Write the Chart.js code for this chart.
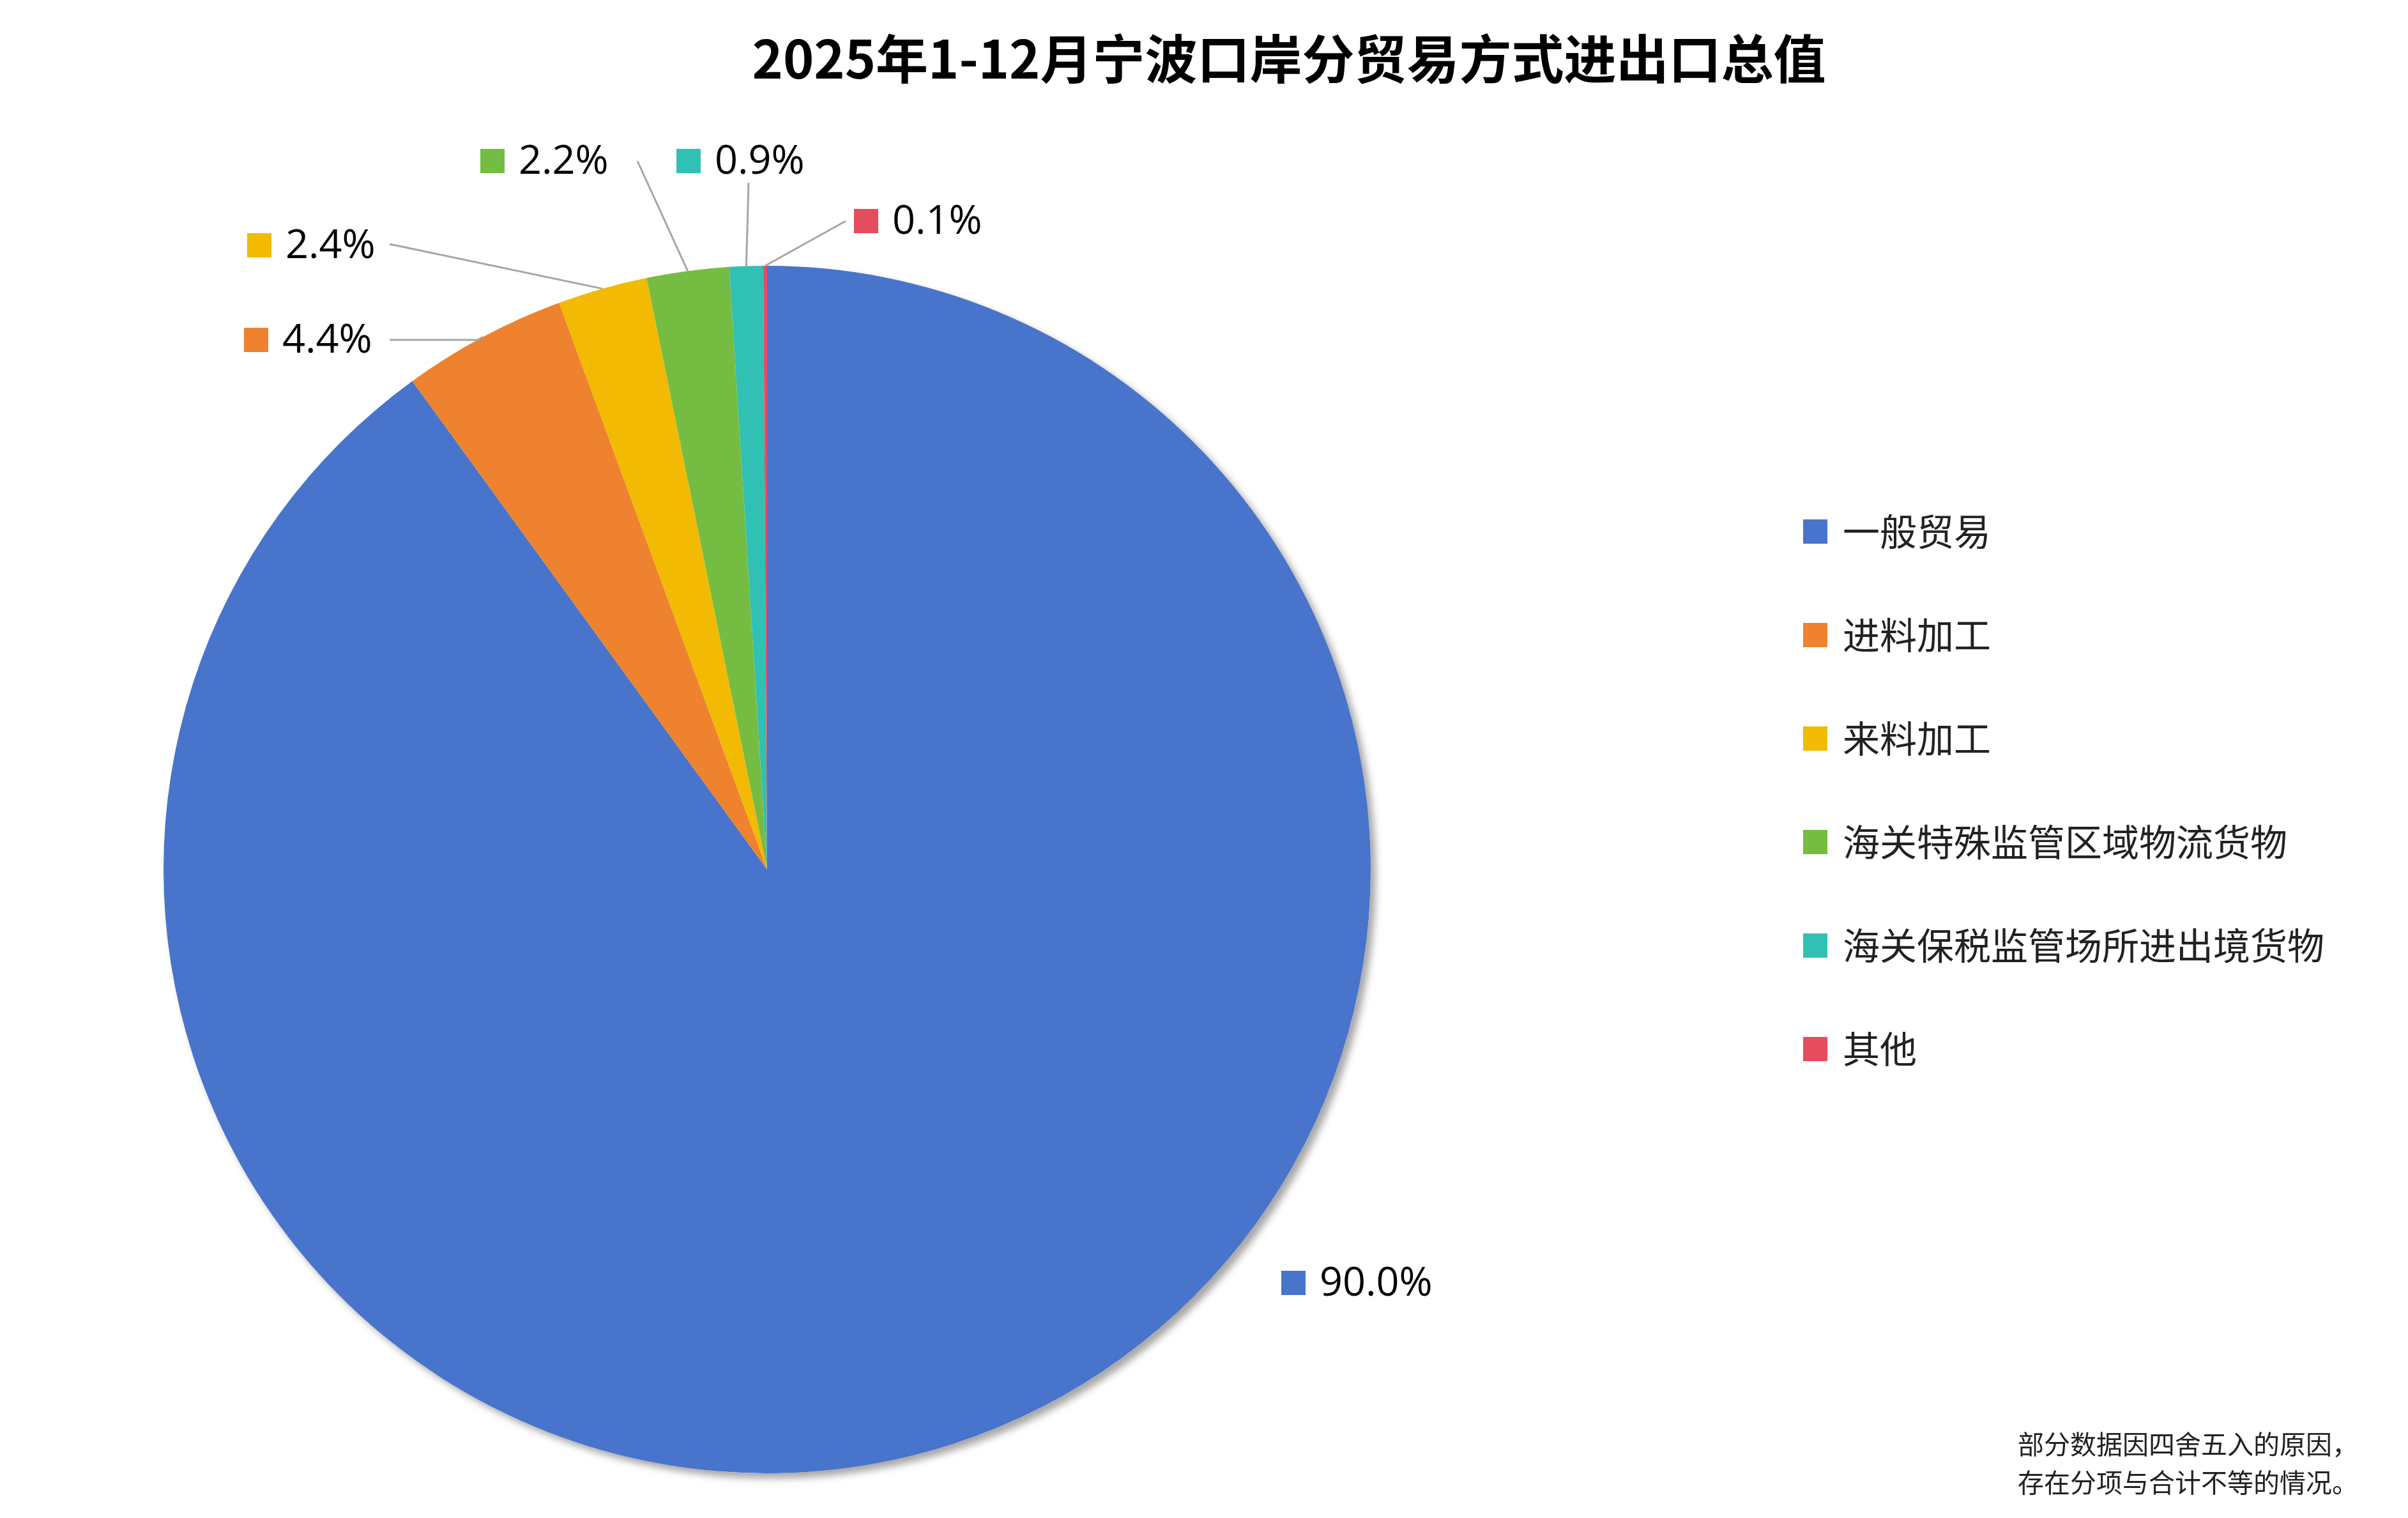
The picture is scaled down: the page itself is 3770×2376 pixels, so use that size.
<!DOCTYPE html>
<html><head><meta charset="utf-8">
<script src="https://cdn.jsdelivr.net/npm/chart.js@4/dist/chart.umd.min.js"></script>
<style>html,body{margin:0;padding:0;background:#fff}#w{width:3770px;height:2376px}</style>
</head><body><div id="w"><canvas id="c"></canvas></div>
<script>
const categories = ["一般贸易","进料加工","来料加工","海关特殊监管区域物流货物","海关保税监管场所进出境货物","其他"];
const shares = [90.0, 4.4, 2.4, 2.2, 0.9, 0.1];
const colors = ["#4874CB","#EE822F","#F2BA02","#75BD42","#30C0B4","#E54C5E"];
const titleText = "2025年1-12月宁波口岸分贸易方式进出口总值";
const noteLines = ["部分数据因四舍五入的原因，","存在分项与合计不等的情况。"];
// label box positions (square left x, center y) and leader bend points
const labelPos = [[2006,2008],[382,532],[387,384],[752,252],[1059,252],[1337,346]];
const leaderStart = [null,[[610,532],[748,532]],[[610,382]],[[998,252]],[[1172,286]],[[1324,346]]];
const CJK = '"Noto Sans CJK SC","Noto Sans",sans-serif';
const LAB = '"Open Sans","Noto Sans",sans-serif';

const deco = {
  id:'deco',
  beforeDatasetsDraw(ch){
    const a=ch.getDatasetMeta(0).data[0]; const ctx=ch.ctx;
    ctx.save(); ctx.shadowColor='rgba(0,0,0,0.35)'; ctx.shadowBlur=12; ctx.shadowOffsetX=8; ctx.shadowOffsetY=8;
    ctx.beginPath(); ctx.arc(a.x,a.y,a.outerRadius,0,Math.PI*2); ctx.fillStyle='#fff'; ctx.fill(); ctx.restore();
  },
  afterDraw(ch){
    const ctx=ch.ctx, meta=ch.getDatasetMeta(0);
    ctx.save();
    ctx.fillStyle='#000'; ctx.font='bold 82px '+CJK; ctx.textAlign='center'; ctx.textBaseline='middle';
    ctx.fillText(titleText,2018,92);
    // labels
    ctx.font='63px '+LAB; ctx.textAlign='left';
    meta.data.forEach((arc,i)=>{
      const [sx,sy]=labelPos[i];
      ctx.fillStyle=colors[i]; ctx.fillRect(sx,sy-19,38,38);
      ctx.fillStyle='#000'; ctx.fillText(shares[i].toFixed(1)+'%',sx+60,sy+2);
      if(leaderStart[i]){
        const mid=(arc.startAngle+arc.endAngle)/2;
        const ex=arc.x+Math.cos(mid)*arc.outerRadius, ey=arc.y+Math.sin(mid)*arc.outerRadius;
        ctx.strokeStyle='#A6A6A6'; ctx.lineWidth=3; ctx.beginPath();
        const pts=leaderStart[i]; ctx.moveTo(pts[0][0],pts[0][1]);
        for(let k=1;k<pts.length;k++) ctx.lineTo(pts[k][0],pts[k][1]);
        ctx.lineTo(ex,ey); ctx.stroke();
      }
    });
    // legend
    ctx.font='58px '+CJK;
    categories.forEach((c,i)=>{
      const y=832+i*162;
      ctx.fillStyle=colors[i]; ctx.fillRect(2823,y-19,38,38);
      ctx.fillStyle='#222'; ctx.fillText(c,2885,y);
    });
    ctx.font='41px '+CJK; ctx.fillStyle='#222';
    noteLines.forEach((l,i)=>ctx.fillText(l,3159,2260+i*60));
    ctx.restore();
  }
};
new Chart(document.getElementById('c'),{
  type:'pie',
  data:{labels:categories,datasets:[{data:shares,backgroundColor:colors,borderWidth:0}]},
  options:{responsive:true,maintainAspectRatio:false,animation:false,
    layout:{padding:{left:256,right:1624,top:416,bottom:70}},
    plugins:{legend:{display:false},tooltip:{enabled:false},title:{display:false}}},
  plugins:[deco]
});
</script></body></html>
